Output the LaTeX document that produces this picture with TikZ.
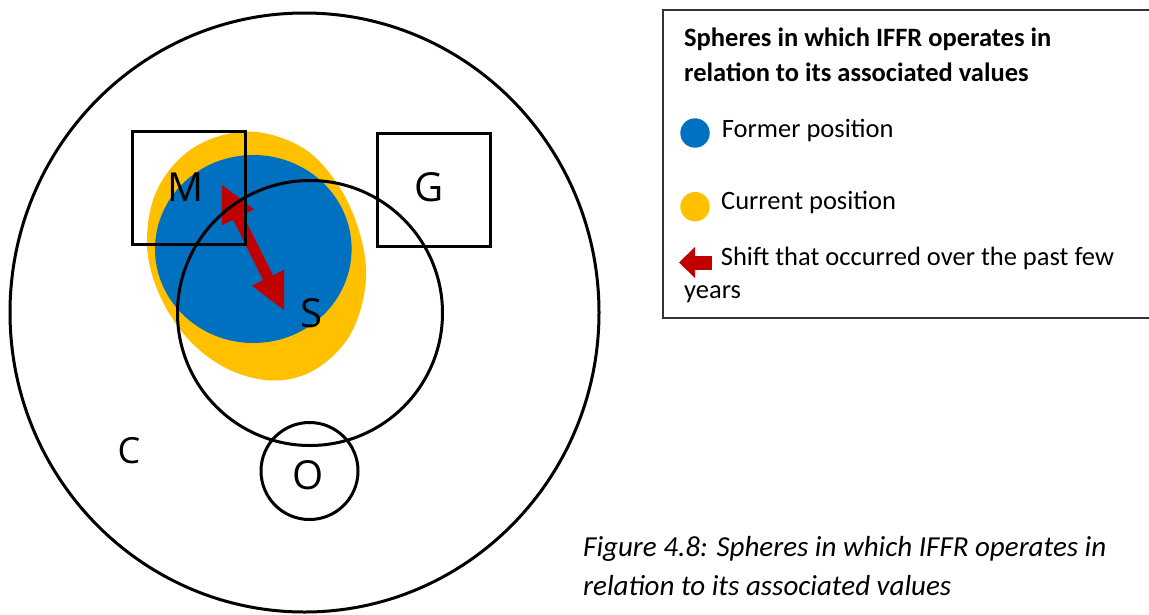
\documentclass[tikz,border=0pt]{standalone}
\usepackage{fontspec}
\setmainfont{Carlito}
\newfontfamily\letterfont{Open Sans}
\usetikzlibrary{arrows.meta}
\definecolor{formerblue}{HTML}{0070C0}
\definecolor{currentyellow}{HTML}{FFC000}
\definecolor{shiftred}{HTML}{C00000}

\begin{document}
\begin{tikzpicture}[x=1pt,y=-1pt,
  outline/.style={draw=black, line width=3pt},
  sphereletter/.style={font=\letterfont\fontsize{40}{48}\selectfont, inner sep=0pt},
  legendtext/.style={font=\fontsize{26.5}{32}\selectfont, anchor=base west, inner sep=0pt},
  captiontext/.style={font=\fontsize{29}{34}\selectfont\itshape, anchor=base west, inner sep=0pt},
  legenddot/.style={circle, minimum size=29.4pt, inner sep=0pt}]
\useasboundingbox (0,0) rectangle (1149,614);

% current position (yellow) and former position (blue)
\fill[currentyellow] plot[smooth cycle, tension=0.6] coordinates {
  (248,131.5) (303,148) (340,188) (361,238) (365.5,285) (350,335)
  (316,369) (275,380.5) (230,370) (190,341) (160,296) (147,245)
  (157,190) (193,148)};
\fill[formerblue] (253.3,249) ellipse [x radius=98.3pt, y radius=94pt];

% shift between M and S
\coordinate (shiftM) at (222,185);
\coordinate (shiftS) at (284,310);
\draw[shiftred, line width=11pt, {Triangle[length=36pt,width=36pt,line width=0pt]}-{Triangle[length=36pt,width=36pt,line width=0pt]}] (shiftM) -- (shiftS);

% spheres
\draw[outline] (304.5,312.5) ellipse [x radius=294.5pt, y radius=299.5pt];
\draw[outline] (310,313) circle [radius=132.5pt];
\draw[outline] (309.5,471) circle [radius=48.5pt];
\draw[outline] (132,131) rectangle (245,244);
\draw[outline] (377,133) rectangle (490,246);

\node[sphereletter] (M) at (186,187.5) {M};
\node[sphereletter] (G) at (428.6,187) {G};
\node[sphereletter] (S) at (311.7,313) {S};
\node[sphereletter] (O) at (308.3,475) {O};
\node[sphereletter, font=\letterfont\fontsize{36}{44}\selectfont] (C) at (129,450.5) {C};

% legend frame, open on the right where the page ends
\begin{scope}
  \clip (0,0) rectangle (1149,614);
  \draw[line width=1.8pt, draw=black!80] (1170,10) -- (663,10) -- (663,318) -- (1170,318);
\end{scope}
\node[legendtext, font=\fontsize{26.5}{32}\selectfont\bfseries] (title1) at (684,46.7) {Spheres in which IFFR operates in};
\node[legendtext, font=\fontsize{26.5}{32}\selectfont\bfseries] (title2) at (684,81.7) {relation to its associated values};
\node[legenddot, fill=formerblue] (formerdot) at (695,133) {};
\node[legendtext] (former) at (721.7,137) {Former position};
\node[legenddot, fill=currentyellow] (currentdot) at (695,206.7) {};
\node[legendtext] (current) at (721,209) {Current position};
\coordinate (legshaft) at (712,262.5);
\coordinate (legtip) at (679,262.5);
\draw[shiftred, line width=14pt, -{Triangle[length=16pt,width=31pt,line width=0pt]}] (legshaft) -- (legtip);
\node[legendtext] (shift1) at (720.7,265) {Shift that occurred over the past few};
\node[legendtext] (shift2) at (684,298) {years};

% caption
\node[captiontext] (cap1) at (583,556.7) {Figure 4.8: Spheres in which IFFR operates in};
\node[captiontext] (cap2) at (583,595) {relation to its associated values};
\end{tikzpicture}
\end{document}
